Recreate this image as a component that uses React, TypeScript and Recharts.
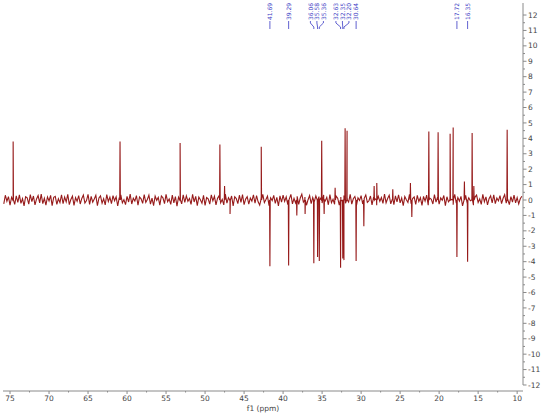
import React from 'react';
import { LineChart, Line, XAxis, YAxis, ReferenceLine, ReferenceDot } from 'recharts';

// baseline noise, one value every NOISE_STEP ppm starting at NOISE_START
const NOISE_START = 76;
const NOISE_STEP = 0.2;
const noise: number[] = [
  0.12, -0.25, 0.31, -0.08, 0.22, -0.34, 0.18, 0.05, -0.29, 0.27,
  -0.15, 0.33, -0.22, 0.09, -0.38, 0.21, 0.14, -0.27, 0.35, -0.11,
  0.26, -0.31, 0.07, 0.29, -0.19, 0.38, -0.24, 0.11, -0.33, 0.2,
  -0.06, 0.3, -0.36, 0.17, 0.24, -0.28, 0.08, -0.17, 0.34, -0.23,
  0.19, -0.12, 0.37, -0.3, 0.04, 0.25, -0.35, 0.16, -0.09, 0.28,
  -0.26, 0.1, 0.32, -0.2, -0.04, 0.36, -0.29, 0.23, -0.14, 0.06,
  0.3, -0.37, 0.13, 0.27, -0.21, 0.09, -0.32, 0.35, -0.1, 0.18,
  -0.24, 0.28, -0.05, 0.21, -0.39, 0.15, 0.33, -0.18, 0.02, -0.3,
  0.24, -0.13, 0.39, -0.26, 0.11, -0.07, 0.29, -0.34, 0.2, 0.08,
  -0.22, 0.35, -0.16, 0.03, 0.31, -0.27, 0.12, -0.36, 0.25, -0.02,
  0.17, -0.33, 0.26, 0.14, -0.23, 0.37, -0.11, 0.07, -0.28, 0.32,
  -0.19, 0.22, -0.4, 0.18, 0.05, -0.25, 0.34, -0.15, 0.27, -0.08,
  0.1, -0.29, 0.36, -0.13, 0.23, -0.37, 0.19, 0.01, -0.21, 0.3,
  -0.35, 0.16, 0.08, -0.27, 0.33, -0.06, 0.24, -0.31, 0.12, 0.28,
  -0.18, 0.04, -0.32, 0.38, -0.2, 0.15, -0.1, 0.26, -0.38, 0.21,
  0.09, -0.24, 0.31, -0.16, 0.35, -0.3, 0.06, 0.22, -0.26, 0.13,
  -0.07, 0.34, -0.21, 0.28, -0.12, -0.33, 0.2, 0.37, -0.17, 0.03,
  0.25, -0.36, 0.14, -0.04, 0.3, -0.22, 0.17, -0.39, 0.27, -0.13,
  0.32, -0.09, 0.21, -0.3, 0.07, 0.36, -0.25, 0.11, -0.19, 0.24,
  -0.28, 0.13, 0.38, -0.14, 0.19, -0.34, 0.02, 0.29, -0.23, 0.16,
  -0.11, 0.27, -0.37, 0.22, 0.1, -0.2, 0.33, -0.06, 0.18, -0.31,
  0.35, -0.17, 0.05, -0.28, 0.25, 0.12, -0.33, 0.2, -0.08, 0.3,
  -0.21, 0.18, -0.13, 0.37, -0.27, 0.08, 0.23, -0.36, 0.15, -0.03,
  0.28, -0.26, 0.11, 0.33, -0.15, -0.05, 0.26, -0.32, 0.19, 0.07,
  -0.34, 0.24, -0.09, 0.16, -0.22, 0.39, -0.18, 0.1, 0.31, -0.25,
  0.06, -0.3, 0.27, -0.12, 0.34, -0.19, 0.13, -0.37, 0.22, 0.01,
  -0.16, 0.36, -0.24, 0.09, 0.2, -0.29, 0.3, -0.1, 0.15, -0.35,
  0.23, -0.07, 0.32, -0.33, 0.12, 0.05, -0.26, 0.35, -0.14, 0.19,
  -0.27, 0.14, -0.02, 0.29, -0.36, 0.21, -0.12, 0.26, 0.04, -0.31,
  0.37, -0.2, 0.16, -0.08, 0.24, -0.38, 0.1, 0.3, -0.22, 0.14,
  -0.05, 0.25, -0.34, 0.19, 0.32, -0.16, 0.07, -0.28, 0.36, -0.12,
  0.2, -0.31, 0.09, 0.27, -0.18, 0.34, -0.24, 0.13, -0.06, 0.28,
  -0.23, 0.11, 0.35, -0.21, 0.03, -0.3, 0.22, -0.14, 0.31, -0.19,
  0.15, -0.26, 0.08, 0.24,
];

// signals: shift (ppm) and intensity
const peakPpm = [
  74.6, 60.9, 53.2, 48.1, 47.5, 46.8, 42.8, 41.69, 39.29, 38.24, 37.18,
  36.06, 35.58, 35.36, 35.05, 34.74, 33.33, 32.63, 32.35, 32.2, 32.05,
  31.8, 30.64, 29.65, 28.33, 27.99, 25.94, 23.68, 23.5, 21.32, 20.13,
  18.59, 18.2, 17.72, 16.76, 16.35, 15.77, 15.55, 11.28,
];
const peakHeight = [
  3.8, 3.8, 3.7, 3.6, 0.9, -0.9, 3.45, -4.3, -4.25, -1.0, -0.9,
  -4.1, -3.7, -3.95, 3.85, -0.9, 0.8, -4.4, -3.8, -3.9, 4.65,
  4.5, -3.95, -1.7, 0.9, 1.1, 0.7, 1.1, -1.1, 4.45, 4.4,
  4.3, 4.7, -3.7, 1.2, -4.0, 4.35, 0.9, 4.55,
];

// annotated shifts shown at the top
const labelPpm = [41.69, 39.29, 36.06, 35.58, 35.36, 32.63, 32.35, 32.2, 30.64, 17.72, 16.35];

const xMajorTicks = [75, 70, 65, 60, 55, 50, 45, 40, 35, 30, 25, 20, 15, 10];
const yMajorTicks = [-12, -11, -10, -9, -8, -7, -6, -5, -4, -3, -2, -1, 0, 1, 2, 3, 4, 5, 6, 7, 8, 9, 10, 11, 12];

const X_MIN = 9.25;
const X_MAX = 75.9;
const Y_MIN = -12.39;
const Y_MAX = 12.78;

const W = 546;
const H = 413;
const MARGIN = { top: 3, right: 0, bottom: 0, left: 3 };
const Y_AXIS_W = 23;
const X_AXIS_H = 22;
const PLOT_W = W - MARGIN.left - MARGIN.right - Y_AXIS_W;

const LINE_COLOR = '#961a1a';
const LABEL_COLOR = '#3a3ac4';
const AXIS_COLOR = '#8a8a8a';
const TEXT_COLOR = '#444';
const FONT = '"DejaVu Sans", Verdana, sans-serif';

const data: { ppm: number; v: number }[] = [];
noise.forEach((v, i) => {
  const ppm = NOISE_START - i * NOISE_STEP;
  if (ppm >= X_MIN && ppm <= X_MAX) data.push({ ppm, v });
});
peakPpm.forEach((p, i) => {
  data.push({ ppm: p + 0.04, v: 0 }, { ppm: p, v: peakHeight[i] }, { ppm: p - 0.04, v: 0 });
});
data.sort((a, b) => b.ppm - a.ppm);

const xTicks: number[] = [];
xMajorTicks.forEach((t) => {
  xTicks.push(t);
  if (t - 2.5 > X_MIN) xTicks.push(t - 2.5);
});
const yTicks: number[] = [];
yMajorTicks.forEach((t) => {
  yTicks.push(t);
  if (t < 12) yTicks.push(t + 0.5);
});

// push crowded labels apart, keep each cluster centred on its peaks
const PX_PER_PPM = PLOT_W / (X_MAX - X_MIN);
const LABEL_GAP = 6.5;
const labelOffsets: number[] = (() => {
  const xs = labelPpm.map((p) => (X_MAX - p) * PX_PER_PPM);
  let groups = xs.map((x) => ({ sum: x, n: 1, start: x }));
  let changed = true;
  while (changed) {
    changed = false;
    for (let i = 0; i < groups.length - 1; i++) {
      const a = groups[i];
      const b = groups[i + 1];
      if (b.start - (a.start + (a.n - 1) * LABEL_GAP) < LABEL_GAP) {
        const n = a.n + b.n;
        const sum = a.sum + b.sum;
        groups.splice(i, 2, { sum, n, start: sum / n - ((n - 1) * LABEL_GAP) / 2 });
        changed = true;
        break;
      }
    }
  }
  const pos: number[] = [];
  groups.forEach((g) => {
    for (let k = 0; k < g.n; k++) pos.push(g.start + k * LABEL_GAP);
  });
  return pos.map((p, i) => p - xs[i]);
})();

const topLabelShape = (i: number) => (props: any) => {
  const x = props.cx;
  const dx = x + labelOffsets[i];
  return (
    <g>
      <text
        x={dx + 2.2}
        y={20}
        transform={`rotate(-90 ${dx + 2.2} 20)`}
        fontSize={6}
        fontFamily={FONT}
        fill={LABEL_COLOR}
        textAnchor="start"
      >
        {labelPpm[i].toFixed(2)}
      </text>
      <polyline
        points={`${dx},21 ${dx},23 ${x},27 ${x},29`}
        stroke={LABEL_COLOR}
        strokeWidth={0.8}
        fill="none"
      />
    </g>
  );
};

const XTick = (props: any) => {
  const { x, y, payload } = props;
  const major = payload.value % 5 === 0;
  return (
    <g>
      <line x1={x} y1={y} x2={x} y2={y + (major ? 3 : 1.5)} stroke={AXIS_COLOR} strokeWidth={1} />
      {major && (
        <text x={x} y={y + 10} textAnchor="middle" fontSize={7.5} fontFamily={FONT} fill={TEXT_COLOR}>
          {payload.value}
        </text>
      )}
    </g>
  );
};

const YTick = (props: any) => {
  const { x, y, payload } = props;
  const major = Number.isInteger(payload.value);
  return (
    <g>
      <line x1={x} y1={y} x2={x + (major ? 3.5 : 2)} y2={y} stroke={AXIS_COLOR} strokeWidth={1} />
      {major && (
        <text x={x + 5} y={y + 2.6} textAnchor="start" fontSize={7.5} fontFamily={FONT} fill={TEXT_COLOR}>
          {payload.value}
        </text>
      )}
    </g>
  );
};

export default function App() {
  return (
    <div style={{ position: 'absolute', left: 0, top: 0, width: W, height: H, background: '#fff' }}>
      <LineChart width={W} height={H} data={data} margin={MARGIN}>
        <XAxis
          dataKey="ppm"
          type="number"
          domain={[X_MIN, X_MAX]}
          reversed
          allowDataOverflow
          ticks={xTicks}
          interval={0}
          tick={<XTick />}
          tickLine={false}
          tickSize={0}
          tickMargin={0}
          height={X_AXIS_H}
          axisLine={{ stroke: AXIS_COLOR }}
          label={{ value: 'f1 (ppm)', position: 'insideBottom', offset: 2, fontSize: 7.5, fontFamily: FONT, fill: TEXT_COLOR }}
        />
        <YAxis
          orientation="right"
          type="number"
          domain={[Y_MIN, Y_MAX]}
          allowDataOverflow
          ticks={yTicks}
          interval={0}
          tick={<YTick />}
          tickLine={false}
          tickSize={0}
          tickMargin={0}
          axisLine={false}
          width={Y_AXIS_W}
        />
        <ReferenceLine
          segment={[{ x: X_MIN, y: -12 }, { x: X_MIN, y: Y_MAX }]}
          stroke={AXIS_COLOR}
          strokeWidth={1}
          ifOverflow="visible"
        />
        <Line
          type="linear"
          dataKey="v"
          stroke={LINE_COLOR}
          strokeWidth={1.1}
          dot={false}
          activeDot={false}
          isAnimationActive={false}
        />
        {labelPpm.map((p, i) => (
          <ReferenceDot
            key={p}
            x={p}
            y={Y_MAX}
            r={0}
            ifOverflow="visible"
            shape={topLabelShape(i)}
          />
        ))}
      </LineChart>
    </div>
  );
}
